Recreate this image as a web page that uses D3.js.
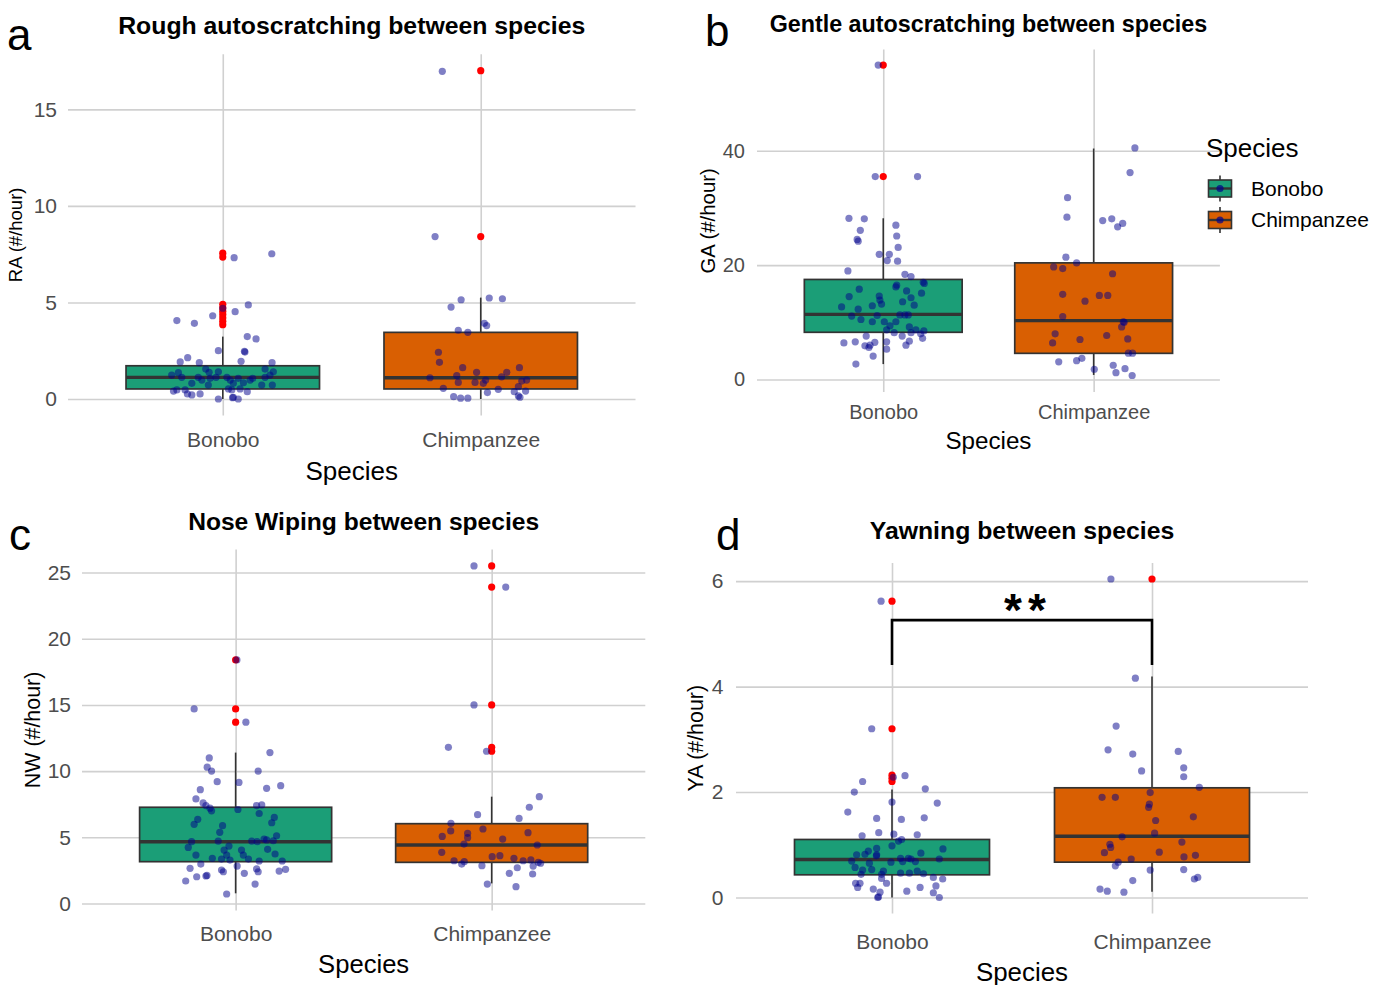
<!DOCTYPE html>
<html>
<head>
<meta charset="utf-8">
<script src="https://cdn.jsdelivr.net/npm/d3@7"></script>
<style>
  body { margin: 0; background: #ffffff; }
  svg text { font-family: "Liberation Sans", Arial, sans-serif; }
</style>
</head>
<body>
<svg id="chart" width="1385" height="985"></svg>
<script>
// ---------------- data ----------------
const species = ["Bonobo", "Chimpanzee"];
const speciesColors = ["#1B9E77", "#D95F02"];

// box statistics per species: [lower whisker, Q1, median, Q3, upper whisker]
// Rough autoscratching (RA)
const raStats = [[0, 0.52, 1.12, 1.72, 3.23], [0, 0.52, 1.10, 3.45, 5.25]];
const raOutliers = [[7.55, 7.35, 4.9, 4.72, 4.55, 4.38, 4.2, 4.02, 3.85], [17.0, 8.41]];
const raBonobo = [4.87, 4.52, 4.70, 4.31, 4.06, 3.92, 3.23, 3.11, 2.50, 2.47, 2.43, 2.14, 1.92, 1.88, 1.95, 1.88, 7.32, 7.52,
  1.24, 1.36, 1.12, 1.55, 1.38, 1.12, 0.98, 1.07, 1.12, 1.41, 1.12, 0.98, 1.07, 0.84, 0.98, 1.07, 1.55, 1.41, 1.12, 1.24,
  0.72, 0.72, 0.72, 0.81, 0.81, 0.41, 0.47, 0.26, 0.21, 0.26, 0.47, 0.52, 0.47, 0.52, 0.38, 0.00, 0.09, 0.00, 0.07];
const raBonoboJitter = [0.099, 0.048, 0.000, -0.039, -0.178, -0.110, 0.095, 0.129, -0.017, 0.084, 0.086, -0.136, -0.165, -0.091, 0.071, 0.191, 0.044, 0.190,
  -0.198, -0.172, -0.159, -0.066, -0.053, -0.095, -0.081, -0.049, -0.026, -0.017, 0.016, 0.029, 0.060, 0.080, 0.106, 0.116, 0.164, 0.196, 0.164, 0.183,
  0.192, 0.151, -0.056, -0.120, 0.041, -0.191, -0.146, -0.137, -0.120, -0.088, -0.178, 0.022, 0.035, 0.067, 0.095, -0.017, 0.041, 0.060, 0.038];
const raChimp = [16.97, 8.41, 5.14, 5.23, 5.19, 4.76, 3.92, 3.80, 3.56, 3.45, 2.42, 1.90, 1.62, 1.62, 1.38, 1.38, 1.10, 1.21,
  0.86, 0.86, 0.81, 0.98, 1.15, 0.93, 0.98, 0.64, 0.55, 0.33, 0.50, 0.38, 0.41, 0.16, 0.09, 0.12, 0.04, 0.04];
const raChimpJitter = [-0.149, -0.177, -0.076, 0.033, 0.084, -0.115, 0.014, 0.023, -0.087, -0.050, -0.164, -0.160, -0.070, 0.150, -0.016, 0.101, -0.197, -0.093,
  -0.087, -0.022, 0.010, 0.019, 0.081, 0.159, 0.178, 0.146, -0.145, 0.026, 0.068, 0.130, 0.174, 0.146, 0.152, -0.105, -0.078, -0.050];

// Gentle autoscratching (GA)
const gaStats = [[2.7, 8.26, 11.4, 17.5, 28.2], [0.8, 4.58, 10.3, 20.4, 40.4]];
const gaOutliers = [[55.0, 35.5], []];
const gaBonobo = [55.0, 35.5, 35.5, 28.2, 28.1, 27.0, 26.1, 25.1, 24.5, 24.2, 23.1, 21.9, 21.9, 20.8, 20.7, 19.0, 18.4, 18.0,
  17.0, 16.8, 16.5, 16.2, 15.8, 14.5, 14.6, 13.9, 15.5, 14.3, 15.1, 13.6, 13.0, 12.7, 12.9, 13.2, 12.3, 11.1, 10.5, 11.2,
  10.1, 11.3, 11.3, 11.3, 10.1, 9.4, 10.1, 9.2, 8.7, 8.2, 8.2, 8.7, 8.0, 8.5, 7.2, 7.6, 7.6, 6.6, 6.7, 6.0, 6.4, 6.6,
  5.9, 6.0, 6.5, 5.6, 5.3, 4.1, 2.7];
const gaBonoboJitter = [-0.024, -0.038, 0.163, -0.163, -0.090, 0.060, -0.109, 0.064, -0.124, -0.119, 0.071, -0.019, 0.029, 0.019, 0.068, -0.168, 0.103, 0.132,
  0.190, 0.195, 0.064, 0.060, -0.114, -0.162, -0.019, -0.016, 0.111, 0.132, 0.182, 0.092, 0.147, -0.198, -0.052, -0.008, -0.119, -0.150, -0.106, -0.029,
  -0.052, 0.079, 0.103, 0.119, 0.005, 0.032, 0.060, 0.124, 0.016, 0.052, 0.132, 0.155, 0.178, 0.193, 0.187, 0.090, -0.081, 0.016, 0.124, 0.108, -0.187, -0.133,
  -0.087, -0.063, -0.040, -0.068, 0.016, -0.048, -0.130];
const gaChimp = [40.5, 36.2, 31.8, 28.4, 27.8, 28.1, 27.3, 26.7, 21.4, 20.4, 19.7, 19.4, 18.5, 14.9, 14.7, 14.7, 13.7, 11.0,
  10.1, 10.0, 9.2, 8.0, 6.4, 7.0, 7.7, 7.1, 4.6, 4.6, 3.1, 3.3, 3.7, 1.8, 2.5, 1.2, 1.9, 0.7];
const gaChimpJitter = [0.196, 0.173, -0.124, -0.127, 0.043, 0.086, 0.138, 0.114, -0.132, -0.081, -0.190, -0.147, 0.090, -0.147, 0.027, 0.067, -0.041, -0.147,
  0.141, 0.145, 0.133, -0.183, -0.195, -0.065, 0.062, 0.162, 0.165, 0.185, -0.166, -0.081, -0.056, 0.003, 0.093, 0.106, 0.149, 0.183];

// Nose wiping (NW)
const nwStats = [[0.77, 3.16, 4.67, 7.27, 11.4], [1.52, 3.11, 4.42, 6.03, 8.07]];
const nwOutliers = [[18.4, 14.7, 13.7], [25.5, 23.9, 15.0, 11.8, 11.5]];
const nwBonobo = [18.4, 14.7, 13.7, 11.4, 11.0, 10.3, 10.0, 10.0, 9.2, 9.15, 8.9, 8.7, 8.6, 7.9, 7.6, 7.4, 7.2, 7.0,
  7.4, 7.45, 6.8, 7.1, 5.98, 6.36, 5.88, 5.38, 6.5, 6.1, 4.67, 4.24, 4.72, 4.34, 4.04, 4.72, 4.67, 4.87, 4.80, 4.74,
  5.12, 4.09, 4.04, 3.66, 3.66, 3.66, 3.36, 3.41, 3.36, 3.21, 3.74, 3.21, 3.28, 2.66, 2.98, 2.02, 2.08, 2.12, 1.70,
  2.53, 2.40, 2.83, 2.28, 2.61, 2.40, 1.47, 2.45, 2.58, 0.72];
const nwBonoboJitter = [0.005, -0.162, 0.040, 0.134, -0.103, -0.111, -0.094, 0.088, -0.072, 0.013, 0.176, 0.121, -0.138, -0.155, -0.127, -0.116, -0.100, -0.094,
  0.082, 0.102, 0.092, 0.009, -0.162, -0.148, -0.051, -0.062, 0.151, 0.141, -0.172, -0.185, -0.068, -0.026, -0.045, 0.063, 0.084, 0.111, 0.121, 0.147,
  0.160, 0.125, 0.023, 0.030, -0.155, -0.035, -0.055, -0.091, 0.050, 0.092, 0.154, 0.182, -0.022, -0.178, -0.136, -0.152, -0.116, -0.112, -0.195,
  -0.055, -0.048, 0.006, 0.034, 0.082, 0.088, 0.076, 0.170, 0.195, -0.035];
const nwChimp = [25.5, 23.9, 15.0, 11.8, 11.5, 8.07, 7.27, 6.71, 6.43, 6.06, 5.48, 5.07, 5.30, 4.97, 5.63, 5.35, 4.87, 4.49,
  4.42, 3.87, 3.54, 3.61, 3.41, 3.23, 3.29, 3.23, 2.98, 3.16, 3.11, 3.04, 2.86, 2.83, 2.70, 2.28, 2.23, 1.47, 1.27];
const nwChimpJitter = [-0.069, 0.055, -0.069, -0.169, -0.020, 0.186, 0.147, -0.055, 0.107, -0.159, -0.160, -0.193, -0.094, -0.094, -0.034, 0.142, 0.043, -0.108,
  0.178, -0.195, 0.002, 0.032, 0.087, 0.123, 0.153, -0.147, -0.117, -0.107, 0.182, 0.191, -0.038, 0.162, 0.100, 0.069, 0.160, -0.017, 0.095];

// Yawning (YA)
const yaStats = [[0, 0.43, 0.72, 1.10, 2.05], [0.11, 0.67, 1.16, 2.08, 4.19]];
const yaOutliers = [[5.62, 3.20, 2.32, 2.26, 2.20], [6.04]];
const yaBonobo = [5.62, 3.20, 2.28, 2.31, 2.20, 2.06, 2.00, 1.81, 1.79, 1.62, 1.50, 1.48, 1.51, 1.17, 1.23, 1.20, 1.19, 1.07,
  1.10, 0.93, 0.81, 0.79, 0.98, 0.88, 0.81, 0.69, 0.82, 0.57, 0.52, 0.65, 0.53, 0.50, 0.44, 0.67, 0.74, 0.68, 0.74, 0.73,
  0.68, 0.84, 0.73, 0.92, 0.46, 0.46, 0.50, 0.45, 0.44, 0.27, 0.19, 0.27, 0.16, 0.10, 0.00, 0.01, 0.27, 0.36, 0.12, 0.19,
  0.38, 0.22, 0.09, 0.35, 0.00];
const yaBonoboJitter = [-0.042, -0.078, 0.005, 0.050, -0.113, 0.128, -0.145, 0.000, 0.174, -0.170, -0.059, 0.036, 0.124, -0.115, -0.051, 0.007, 0.097, 0.025,
  0.037, -0.059, -0.059, -0.060, 0.000, -0.091, -0.136, -0.155, -0.104, -0.142, -0.113, -0.087, -0.078, -0.033, -0.040, -0.004, 0.033, 0.041, 0.063, 0.073,
  0.090, 0.111, 0.182, 0.196, 0.033, 0.067, 0.097, 0.121, -0.119, -0.140, -0.132, -0.123, -0.072, -0.046, -0.055, -0.052, -0.021, -0.040, 0.057, 0.108,
  0.159, 0.169, 0.159, 0.195, 0.182];
const yaChimp = [6.04, 4.16, 3.25, 2.80, 2.72, 2.77, 2.46, 2.29, 2.40, 2.09, 1.99, 1.90, 1.90, 1.77, 1.71, 1.46, 1.53, 1.22,
  1.15, 1.05, 1.01, 0.95, 0.85, 0.86, 0.73, 0.77, 0.80, 0.67, 0.60, 0.52, 0.53, 0.35, 0.38, 0.32, 0.16, 0.12, 0.10];
const yaChimpJitter = [-0.158, -0.064, -0.138, -0.169, -0.074, 0.101, 0.122, 0.122, -0.040, 0.182, -0.007, -0.192, -0.141, -0.010, -0.013, 0.014, 0.159, 0.010,
  -0.115, 0.115, -0.162, -0.159, -0.183, 0.028, -0.080, 0.123, 0.167, -0.130, -0.141, -0.007, 0.122, 0.163, 0.176, -0.074, -0.200, -0.172, -0.108];
const yaSignif = { pair: ["Bonobo", "Chimpanzee"], low: 4.41, high: 5.26, label: "**" };

// tick values per panel
const raTicks = [0, 5, 10, 15];
const gaTicks = [0, 20, 40];
const nwTicks = [0, 5, 10, 15, 20, 25];
const yaTicks = [0, 2, 4, 6];

// ---------------- layout ----------------
const panels = [
  { letter: "a", title: "Rough autoscratching between species", yLabel: "RA (#/hour)",
    stats: raStats, outliers: raOutliers, values: [raBonobo, raChimp], jitter: [raBonoboJitter, raChimpJitter], ticks: raTicks,
    left: 68, right: 635.5, top: 54.3, bottom: 415.4, yDomain: [-0.85, 17.85],
    titleY: 34, titleSize: 24.8, tickFont: 21, yGap: 11, xPad: 16.5, xTitleY: 480, xTitleSize: 26,
    yTitleX: 16, yTitleSize: 18.5, letterX: 7, letterY: 50 },
  { letter: "b", title: "Gentle autoscratching between species", yLabel: "GA (#/hour)",
    stats: gaStats, outliers: gaOutliers, values: [gaBonobo, gaChimp], jitter: [gaBonoboJitter, gaChimpJitter], ticks: gaTicks,
    left: 757, right: 1219.9, top: 49.6, bottom: 392.1, yDomain: [-2.2, 57.7],
    titleY: 32, titleSize: 23.3, tickFont: 20, yGap: 12, xPad: 12.5, xTitleY: 448.5, xTitleSize: 24.2,
    yTitleX: 708, yTitleSize: 20.4, letterX: 705, letterY: 46 },
  { letter: "c", title: "Nose Wiping between species", yLabel: "NW (#/hour)",
    stats: nwStats, outliers: nwOutliers, values: [nwBonobo, nwChimp], jitter: [nwBonoboJitter, nwChimpJitter], ticks: nwTicks,
    left: 82, right: 645.3, top: 549.5, bottom: 910.4, yDomain: [-0.52, 26.74],
    titleY: 530, titleSize: 24.6, tickFont: 21, yGap: 11, xPad: 15.5, xTitleY: 973, xTitleSize: 25.6,
    yTitleX: 32, yTitleSize: 21.4, letterX: 9, letterY: 550 },
  { letter: "d", title: "Yawning between species", yLabel: "YA (#/hour)",
    stats: yaStats, outliers: yaOutliers, values: [yaBonobo, yaChimp], jitter: [yaBonoboJitter, yaChimpJitter], ticks: yaTicks,
    left: 736, right: 1308, top: 563.1, bottom: 913.4, yDomain: [-0.302, 6.342],
    titleY: 539, titleSize: 24.8, tickFont: 21, yGap: 12.5, xPad: 20.5, xTitleY: 981, xTitleSize: 25.9,
    yTitleX: 695, yTitleSize: 21.4, letterX: 716, letterY: 550, signif: yaSignif }
];

const gridColor = "#d0d0d0";
const lineColor = "#333333";
const pointColor = "#00008B";
const outlierColor = "#FF0000";
const pointR = 3.6;

const svg = d3.select("#chart");

function drawPanel(p) {
  const g = svg.append("g");
  const x = d3.scalePoint().domain(species).range([p.left, p.right]).padding(0.6);
  const y = d3.scaleLinear().domain(p.yDomain).range([p.bottom, p.top]);
  const step = x.step();
  const boxW = step * 0.75;

  // horizontal grid lines and y tick labels
  const ya = g.append("g")
    .attr("transform", `translate(${p.left},0)`)
    .call(d3.axisLeft(y).tickValues(p.ticks).tickFormat(d3.format("d"))
      .tickSize(-(p.right - p.left)).tickPadding(p.yGap));
  ya.select(".domain").remove();
  ya.attr("font-family", null).attr("font-size", null);
  ya.selectAll("line").attr("stroke", gridColor).attr("stroke-width", 1.6);
  ya.selectAll("text").attr("fill", "#4d4d4d").attr("font-size", p.tickFont);

  // vertical grid lines and category labels
  const xa = g.append("g")
    .attr("transform", `translate(0,${p.bottom})`)
    .call(d3.axisBottom(x).tickSize(-(p.bottom - p.top)).tickPadding(p.xPad));
  xa.select(".domain").remove();
  xa.attr("font-family", null).attr("font-size", null);
  xa.selectAll("line").attr("stroke", gridColor).attr("stroke-width", 1.6);
  xa.selectAll("text").attr("fill", "#4d4d4d").attr("font-size", p.tickFont);

  // boxplots
  species.forEach((s, i) => {
    const [lo, q1, med, q3, hi] = p.stats[i];
    const cx = x(s);
    const bg = g.append("g");
    bg.append("line").attr("x1", cx).attr("x2", cx).attr("y1", y(q3)).attr("y2", y(hi))
      .attr("stroke", lineColor).attr("stroke-width", 1.6);
    bg.append("line").attr("x1", cx).attr("x2", cx).attr("y1", y(q1)).attr("y2", y(lo))
      .attr("stroke", lineColor).attr("stroke-width", 1.6);
    bg.append("rect").attr("x", cx - boxW / 2).attr("y", y(q3))
      .attr("width", boxW).attr("height", y(q1) - y(q3))
      .attr("fill", speciesColors[i]).attr("stroke", lineColor).attr("stroke-width", 1.7);
    bg.append("line").attr("x1", cx - boxW / 2).attr("x2", cx + boxW / 2).attr("y1", y(med)).attr("y2", y(med))
      .attr("stroke", lineColor).attr("stroke-width", 3.4);
    bg.selectAll("circle").data(p.outliers[i]).join("circle")
      .attr("cx", cx).attr("cy", d => y(d)).attr("r", pointR).attr("fill", outlierColor);
  });

  // jittered observations
  species.forEach((s, i) => {
    const jit = p.jitter[i];
    g.append("g").selectAll("circle").data(p.values[i]).join("circle")
      .attr("cx", (d, j) => x(s) + jit[j] * step)
      .attr("cy", d => y(d))
      .attr("r", pointR)
      .attr("fill", pointColor)
      .attr("fill-opacity", 0.5);
  });

  // significance bracket
  if (p.signif) {
    const sg = p.signif;
    const x1 = x(sg.pair[0]), x2 = x(sg.pair[1]);
    g.append("path")
      .attr("d", `M${x1},${y(sg.low)}V${y(sg.high)}H${x2}V${y(sg.low)}`)
      .attr("fill", "none").attr("stroke", "#000").attr("stroke-width", 2.6);
    g.append("text")
      .attr("x", (x1 + x2) / 2 + 6).attr("y", y(sg.high) - 20 + 0.57 * 46)
      .attr("text-anchor", "middle").attr("font-size", 46).attr("letter-spacing", 6)
      .attr("font-family", "DejaVu Sans").attr("font-weight", "bold")
      .text(sg.label);
  }

  // titles
  const mid = (p.left + p.right) / 2;
  g.append("text").attr("x", mid).attr("y", p.titleY).attr("text-anchor", "middle")
    .attr("font-weight", "bold").attr("font-size", p.titleSize).attr("fill", "#000").text(p.title);
  g.append("text").attr("x", mid).attr("y", p.xTitleY).attr("text-anchor", "middle")
    .attr("font-size", p.xTitleSize).attr("fill", "#000").text("Species");
  g.append("text")
    .attr("transform", `translate(${p.yTitleX},${(p.top + p.bottom) / 2}) rotate(-90)`)
    .attr("text-anchor", "middle").attr("dy", "0.35em")
    .attr("font-size", p.yTitleSize).attr("fill", "#000").text(p.yLabel);
  g.append("text").attr("x", p.letterX).attr("y", p.letterY)
    .attr("font-size", 44).attr("fill", "#000").text(p.letter);
}

panels.forEach(drawPanel);

// legend
const legend = svg.append("g").attr("transform", "translate(1206,0)");
legend.append("text").attr("x", 0).attr("y", 157).attr("font-size", 26).attr("fill", "#000").text("Species");
const keyRows = legend.selectAll("g.key").data(species).join("g")
  .attr("class", "key")
  .attr("transform", (d, i) => `translate(0,${188.5 + i * 31.5})`);
keyRows.append("line").attr("x1", 14).attr("x2", 14).attr("y1", -13).attr("y2", 13)
  .attr("stroke", lineColor).attr("stroke-width", 1.6);
keyRows.append("rect").attr("x", 2.5).attr("y", -8.5).attr("width", 23).attr("height", 17)
  .attr("fill", (d, i) => speciesColors[i]).attr("stroke", lineColor).attr("stroke-width", 1.6);
keyRows.append("line").attr("x1", 2.5).attr("x2", 25.5).attr("y1", 0).attr("y2", 0)
  .attr("stroke", lineColor).attr("stroke-width", 2.4);
keyRows.append("circle").attr("cx", 14).attr("cy", 0).attr("r", pointR)
  .attr("fill", pointColor).attr("fill-opacity", 0.7);
keyRows.append("text").attr("x", 45).attr("y", 0).attr("dy", "0.35em")
  .attr("font-size", 21).attr("fill", "#000").text(d => d);
</script>
</body>
</html>
